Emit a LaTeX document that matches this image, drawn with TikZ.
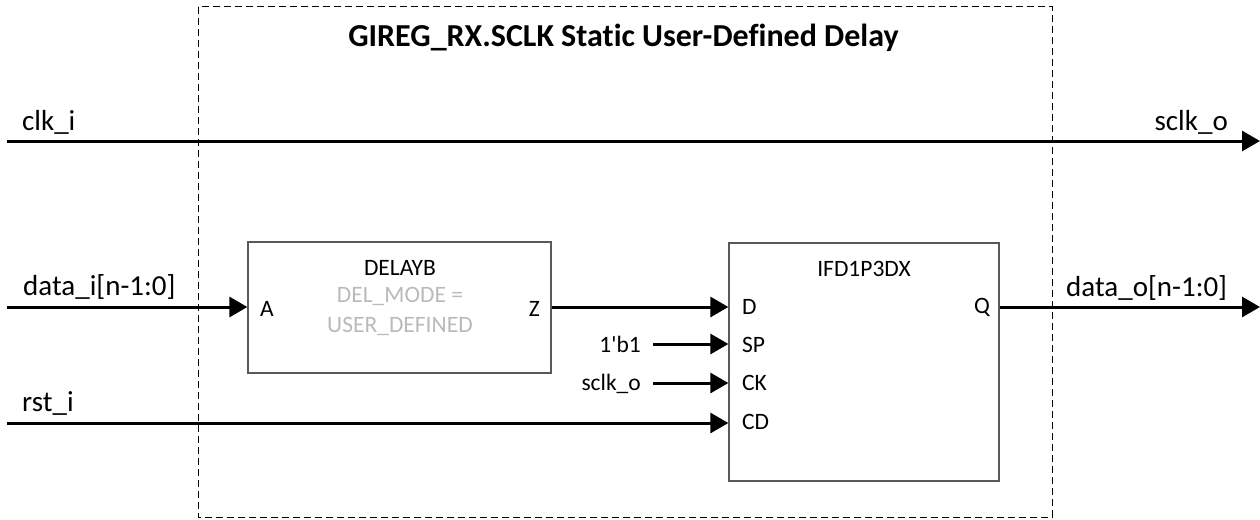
\documentclass[tikz,border=0pt]{standalone}
\usepackage{fontspec}
\setmainfont{Carlito}[Ligatures={NoCommon}]
\usetikzlibrary{arrows.meta}
\begin{document}
\begin{tikzpicture}[x=1pt,y=-1pt,
  wire/.style={line width=3pt,-{Triangle[length=18pt,width=20pt]}},
  blk/.style={draw=black!65,line width=1.3pt,rectangle,inner sep=0},
  lbl/.style={font=\fontsize{29}{34}\selectfont,inner sep=0},
  pinlbl/.style={font=\fontsize{23.5}{28}\selectfont,inner sep=0},
  grey/.style={pinlbl,text=black!27},
  frame/.style={draw=black,line width=1pt,dash pattern=on 7pt off 4pt}]
\useasboundingbox (0,0) rectangle (1260,519);
% dashed frame
\draw[frame] (198,7) rectangle (1052,517);
\node[font=\fontsize{32}{38}\selectfont\bfseries,inner sep=0,anchor=base] (title) at (623.5,47) {GIREG\_RX.SCLK Static User-Defined Delay};
% blocks
\node[blk,minimum width=303pt,minimum height=131pt] (dly) at (399.5,307.5) {};
\node[blk,minimum width=270pt,minimum height=238pt] (ifd) at (864,362) {};
\node[pinlbl,anchor=base] (dlyname) at (400,275) {DELAYB};
\node[grey,anchor=base] (dm1) at (400,302) {DEL\_MODE =};
\node[grey,anchor=base] (dm2) at (400,332) {USER\_DEFINED};
\node[pinlbl,anchor=base] (ifdname) at (864,276) {IFD1P3DX};
% pins
\node[pinlbl,anchor=base west] (pA) at (260,316) {A};
\node[pinlbl,anchor=base east] (pZ) at (540,316) {Z};
\node[pinlbl,anchor=base west] (pD) at (742,314) {D};
\node[pinlbl,anchor=base west] (pSP) at (742,352) {SP};
\node[pinlbl,anchor=base west] (pCK) at (742,390) {CK};
\node[pinlbl,anchor=base west] (pCD) at (742,429) {CD};
\node[pinlbl,anchor=base east] (pQ) at (990,313) {Q};
% external coordinates
\coordinate (clkin) at (7,141);
\coordinate (clkout) at (1260,141);
\coordinate (din) at (7,307);
\coordinate (rstin) at (7,423);
\coordinate (dout) at (1260,307);
\node[lbl,anchor=base west] (lclk) at (22,130) {clk\_i};
\node[lbl,anchor=base east] (lsclk) at (1228,130) {sclk\_o};
\node[lbl,anchor=base west] (ldin) at (23,295) {data\_i[n-1:0]};
\node[lbl,anchor=base west] (lrst) at (22,411) {rst\_i};
\node[lbl,anchor=base west] (ldout) at (1066,296) {data\_o[n-1:0]};
\node[pinlbl,anchor=base east] (one) at (641,352) {1\textquotesingle b1};
\node[pinlbl,anchor=base east] (sck) at (641,390) {sclk\_o};
\coordinate (onew) at (653,344);
\coordinate (sckw) at (653,383);
% wires
\draw[wire] (clkin) -- (clkout);
\draw[wire] (din) -- (din -| dly.west);
\draw[wire] (dly.east |- din) -- (ifd.west |- din);
\draw[wire] (ifd.east |- dout) -- (dout);
\draw[wire] (onew) -- (onew -| ifd.west);
\draw[wire] (sckw) -- (sckw -| ifd.west);
\draw[wire] (rstin) -- (rstin -| ifd.west);
\end{tikzpicture}
\end{document}
